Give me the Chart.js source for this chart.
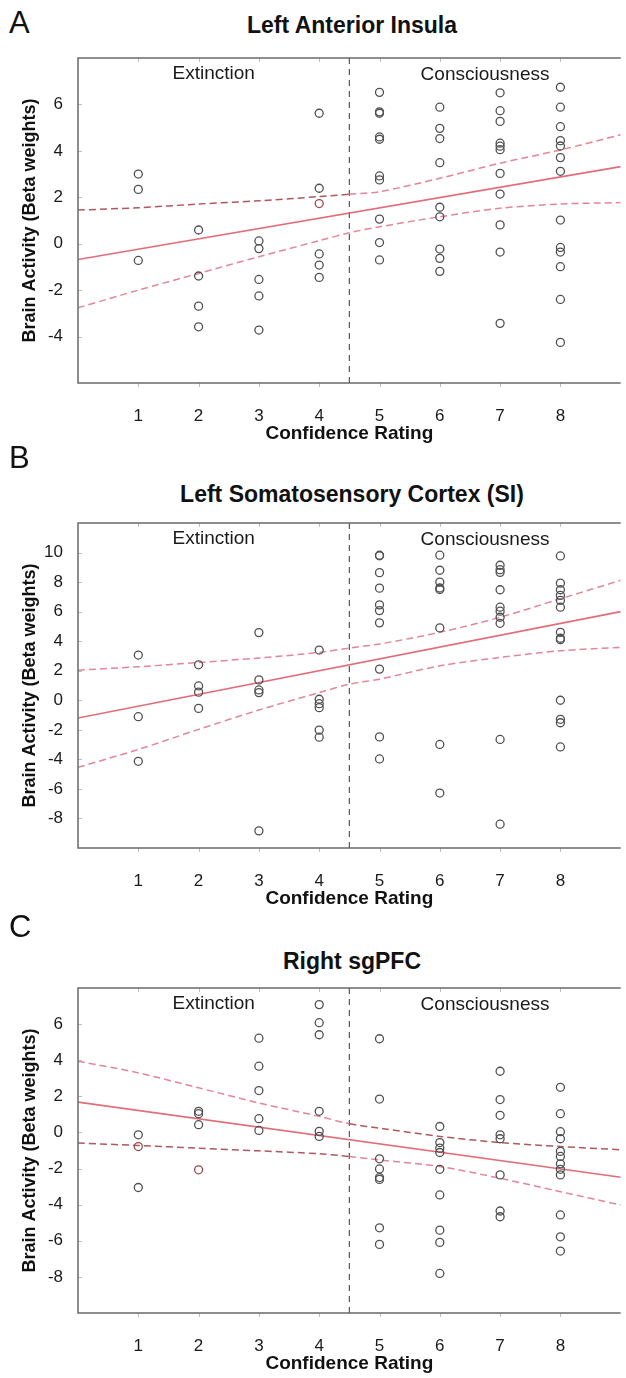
<!DOCTYPE html>
<html>
<head>
<meta charset="utf-8">
<script src="https://cdn.jsdelivr.net/npm/chart.js@4.4.1/dist/chart.umd.min.js"></script>
<style>
  body { margin: 0; background: #fff; width: 626px; height: 1378px; position: relative; overflow: hidden;
         font-family: "Liberation Sans", Arial, sans-serif; color: #111; }
  canvas { position: absolute; left: 0; }
  .letter { position: absolute; left: 9px; font-size: 31px; line-height: 36px; }
  .title { position: absolute; left: 78px; width: 548px; text-align: center; font-weight: bold;
           font-size: 23px; line-height: 28px; }
</style>
</head>
<body>
<div class="letter" style="top:5px">A</div>
<div class="title" style="top:11px">Left Anterior Insula</div>
<canvas id="chart_a" width="626" height="448" style="top:0px"></canvas>

<div class="letter" style="top:440px">B</div>
<div class="title" style="top:480px">Left Somatosensory Cortex (SI)</div>
<canvas id="chart_b" width="626" height="448" style="top:465px"></canvas>

<div class="letter" style="top:909px">C</div>
<div class="title" style="top:947px">Right sgPFC</div>
<canvas id="chart_c" width="626" height="448" style="top:930px"></canvas>

<script>
// x axis: confidence ratings 1..8, boundary between the two groups at 4.5
var ratings = [1, 2, 3, 4, 5, 6, 7, 8];
var xTicks = [1, 2, 3, 4, 5, 6, 7, 8];
var boundary = 4.5;
var fitX = [0, 9];
var bandX = [0, 1, 2, 3, 4, 4.5, 5, 6, 7, 8, 9];

// A - Left Anterior Insula (one list of beta weights per rating)
var insulaBeta = [
    [3.0, 2.34, -0.72],
    [0.59, -1.39, -2.69, -3.58],
    [0.12, -0.21, -1.54, -2.25, -3.72],
    [5.62, 2.39, -0.44, -0.92, -1.45],
    [6.52, 5.68, 5.62, 4.6, 4.5, 2.92, 2.75, 1.06, 0.05, -0.70],
    [5.88, 4.97, 4.53, 3.49, 1.57, 1.16, -0.23, -0.63, -1.19],
    [6.50, 5.73, 5.27, 4.33, 4.2, 4.05, 3.03, 2.14, 0.81, -0.36, -3.43],
    [6.74, 5.88, 5.04, 4.44, 4.21, 3.71, 3.12, 1.02, -0.16, -0.36, -0.99, -2.40, -4.25]
];
var insulaRedX = [4];
var insulaRedY = [1.73];
var insulaFit = [-0.68, 3.32];
var insulaUpper = [1.45, 1.55, 1.71, 1.85, 2.03, 2.13, 2.24, 2.82, 3.47, 4.04, 4.69];
var insulaLower = [-2.76, -2.0, -1.28, -0.56, 0.13, 0.47, 0.73, 1.16, 1.53, 1.71, 1.77];
var insulaLimits = [-6, 8];
var insulaTicks = [-4, -2, 0, 2, 4, 6];

// B - Left Somatosensory Cortex (SI)
var siBeta = [
    [3.06, -1.11, -4.13],
    [2.40, 0.97, 0.55, -0.55],
    [4.58, 1.38, 0.70, 0.52, -8.84],
    [3.40, 0.07, -0.23, -0.50, -2.02, -2.50],
    [9.82, 9.78, 8.64, 7.59, 6.46, 6.07, 5.24, 2.11, -2.48, -3.97],
    [9.82, 8.80, 8.0, 7.6, 7.5, 4.90, -2.99, -6.28],
    [9.14, 8.84, 8.66, 7.48, 6.30, 6.03, 5.62, 5.21, -2.65, -8.39],
    [9.77, 7.93, 7.48, 7.10, 6.76, 6.30, 4.60, 4.2, 4.10, 0.0, -1.29, -1.52, -3.16]
];
var siRedX = [];
var siRedY = [];
var siFit = [-1.2, 6.0];
var siUpper = [2.04, 2.27, 2.56, 2.86, 3.24, 3.54, 3.81, 4.60, 5.62, 6.87, 8.12];
var siLower = [-4.54, -3.33, -1.97, -0.66, 0.52, 1.09, 1.43, 2.33, 2.90, 3.35, 3.58];
var siLimits = [-10, 12];
var siTicks = [-8, -6, -4, -2, 0, 2, 4, 6, 8, 10];

// C - Right sgPFC
var sgpfcBeta = [
    [-0.13, -3.05],
    [1.17, 1.04, 0.43],
    [5.22, 3.67, 2.32, 0.76, 0.11],
    [7.08, 6.08, 5.41, 1.17, 0.06, -0.22],
    [5.19, 1.85, -1.46, -2.02, -2.5, -2.6, -5.28, -6.20],
    [0.33, -0.56, -0.87, -1.11, -2.04, -3.46, -5.41, -6.09, -7.81],
    [3.39, 1.82, 0.95, -0.13, -0.35, -2.35, -4.35, -4.67],
    [2.50, 1.04, 0.04, -0.35, -1.05, -1.33, -1.74, -2.04, -2.35, -4.57, -5.78, -6.57]
];
var sgpfcRedX = [1, 2];
var sgpfcRedY = [-0.78, -2.07];
var sgpfcFit = [1.68, -2.48];
var sgpfcUpper = [3.95, 3.30, 2.47, 1.63, 0.89, 0.48, 0.24, -0.22, -0.56, -0.78, -0.96];
var sgpfcLower = [-0.59, -0.72, -0.87, -1.02, -1.18, -1.33, -1.52, -1.89, -2.54, -3.28, -4.02];
var sgpfcLimits = [-10, 8];
var sgpfcTicks = [-8, -6, -4, -2, 0, 2, 4, 6];

var FONT = '"Liberation Sans", Arial, sans-serif';
var pink = 'rgba(226, 128, 145, 0.95)';
var darkRed = 'rgba(170, 80, 84, 0.95)';

function pairs(xs, ys) {
    return xs.map(function (x, i) { return { x: x, y: ys[i] }; });
}

function byRating(groups) {
    return groups.flatMap(function (vals, i) {
        return vals.map(function (v) { return { x: ratings[i], y: v }; });
    });
}

// dashed confidence band, one side may look darker in the original
function bandColor(darkSide) {
    return function (ctx) {
        if (darkSide === 'left' && ctx.p1.parsed.x <= boundary) return darkRed;
        if (darkSide === 'right' && ctx.p0.parsed.x >= boundary) return darkRed;
        return pink;
    };
}

// box, inward ticks and the two group labels
var framePlugin = {
    id: 'frame',
    afterDraw: function (chart) {
        var ctx = chart.ctx, a = chart.chartArea;
        var xs = chart.scales.x, ys = chart.scales.y;
        ctx.save();
        ctx.strokeStyle = '#bdbdbd';
        ctx.lineWidth = 1;
        ctx.beginPath();
        xs.ticks.forEach(function (t) {
            var px = Math.round(xs.getPixelForValue(t.value)) + 0.5;
            ctx.moveTo(px, a.top); ctx.lineTo(px, a.top + 4);
            ctx.moveTo(px, a.bottom); ctx.lineTo(px, a.bottom + 4);
        });
        ys.ticks.forEach(function (t) {
            var py = Math.round(ys.getPixelForValue(t.value)) + 0.5;
            ctx.moveTo(a.left, py); ctx.lineTo(a.left + 4, py);
        });
        ctx.stroke();

        ctx.strokeStyle = '#6a6a6a';
        ctx.lineWidth = 1.5;
        ctx.beginPath();
        ctx.moveTo(a.right, a.top);
        ctx.lineTo(a.left, a.top);
        ctx.lineTo(a.left, a.bottom);
        ctx.lineTo(a.right, a.bottom);
        ctx.stroke();

        ctx.fillStyle = '#1a1a1a';
        ctx.font = '19px ' + FONT;
        ctx.textAlign = 'center';
        ctx.textBaseline = 'middle';
        ctx.fillText('Extinction', xs.getPixelForValue(boundary / 2), a.top + 16);
        ctx.fillText('Consciousness', xs.getPixelForValue((boundary + 9) / 2), a.top + 17);
        ctx.restore();
    }
};

function makePanel(id, p) {
    return new Chart(document.getElementById(id), {
        type: 'scatter',
        data: {
            datasets: [{
                data: byRating(p.beta),
                pointRadius: 4,
                pointBorderWidth: 1.3,
                pointBorderColor: '#505050',
                pointBackgroundColor: 'rgba(0,0,0,0)'
            }, {
                data: pairs(p.redX, p.redY),
                pointRadius: 4,
                pointBorderWidth: 1.3,
                pointBorderColor: '#9a4a4a',
                pointBackgroundColor: 'rgba(0,0,0,0)'
            }, {
                data: pairs(fitX, p.fit),
                showLine: true,
                borderColor: 'rgba(224, 100, 115, 0.95)',
                borderWidth: 1.6,
                pointRadius: 0
            }, {
                data: pairs(bandX, p.upper),
                showLine: true,
                tension: 0.3,
                borderDash: [7, 4],
                borderWidth: 1.5,
                borderColor: pink,
                segment: { borderColor: bandColor(p.upperDark) },
                pointRadius: 0
            }, {
                data: pairs(bandX, p.lower),
                showLine: true,
                tension: 0.3,
                borderDash: [7, 4],
                borderWidth: 1.5,
                borderColor: pink,
                segment: { borderColor: bandColor(p.lowerDark) },
                pointRadius: 0
            }, {
                data: pairs([boundary, boundary], p.limits),
                showLine: true,
                borderColor: '#555',
                borderDash: [6, 5],
                borderWidth: 1.2,
                pointRadius: 0
            }]
        },
        options: {
            responsive: false,
            animation: false,
            layout: { padding: { top: 58, right: 0, bottom: 0, left: 0 } },
            plugins: { legend: { display: false }, tooltip: { enabled: false } },
            scales: {
                x: {
                    type: 'linear',
                    min: 0,
                    max: 9,
                    afterBuildTicks: function (s) { s.ticks = xTicks.map(function (v) { return { value: v }; }); },
                    afterFit: function (s) { s.height = 65; },
                    grid: { display: false },
                    border: { display: false },
                    ticks: { padding: 15, color: '#1a1a1a', font: { family: FONT, size: 17 } },
                    title: {
                        display: true,
                        text: 'Confidence Rating',
                        color: '#111',
                        padding: { top: 0, bottom: 3 },
                        font: { family: FONT, size: 19, weight: 'bold' }
                    }
                },
                y: {
                    min: p.limits[0],
                    max: p.limits[1],
                    afterBuildTicks: function (s) { s.ticks = p.ticks.map(function (v) { return { value: v }; }); },
                    afterFit: function (s) { s.width = 78; },
                    grid: { display: false },
                    border: { display: false },
                    ticks: { padding: 7, color: '#1a1a1a', font: { family: FONT, size: 17 } },
                    title: {
                        display: true,
                        text: 'Brain Activity (Beta weights)',
                        color: '#111',
                        padding: { top: 19, bottom: 0 },
                        font: { family: FONT, size: 18, weight: 'bold' }
                    }
                }
            }
        },
        plugins: [framePlugin]
    });
}

makePanel('chart_a', {
    beta: insulaBeta, redX: insulaRedX, redY: insulaRedY, fit: insulaFit,
    upper: insulaUpper, lower: insulaLower, limits: insulaLimits, ticks: insulaTicks,
    upperDark: 'left', lowerDark: null
});
makePanel('chart_b', {
    beta: siBeta, redX: siRedX, redY: siRedY, fit: siFit,
    upper: siUpper, lower: siLower, limits: siLimits, ticks: siTicks,
    upperDark: null, lowerDark: null
});
makePanel('chart_c', {
    beta: sgpfcBeta, redX: sgpfcRedX, redY: sgpfcRedY, fit: sgpfcFit,
    upper: sgpfcUpper, lower: sgpfcLower, limits: sgpfcLimits, ticks: sgpfcTicks,
    upperDark: 'right', lowerDark: 'left'
});
</script>
</body>
</html>
